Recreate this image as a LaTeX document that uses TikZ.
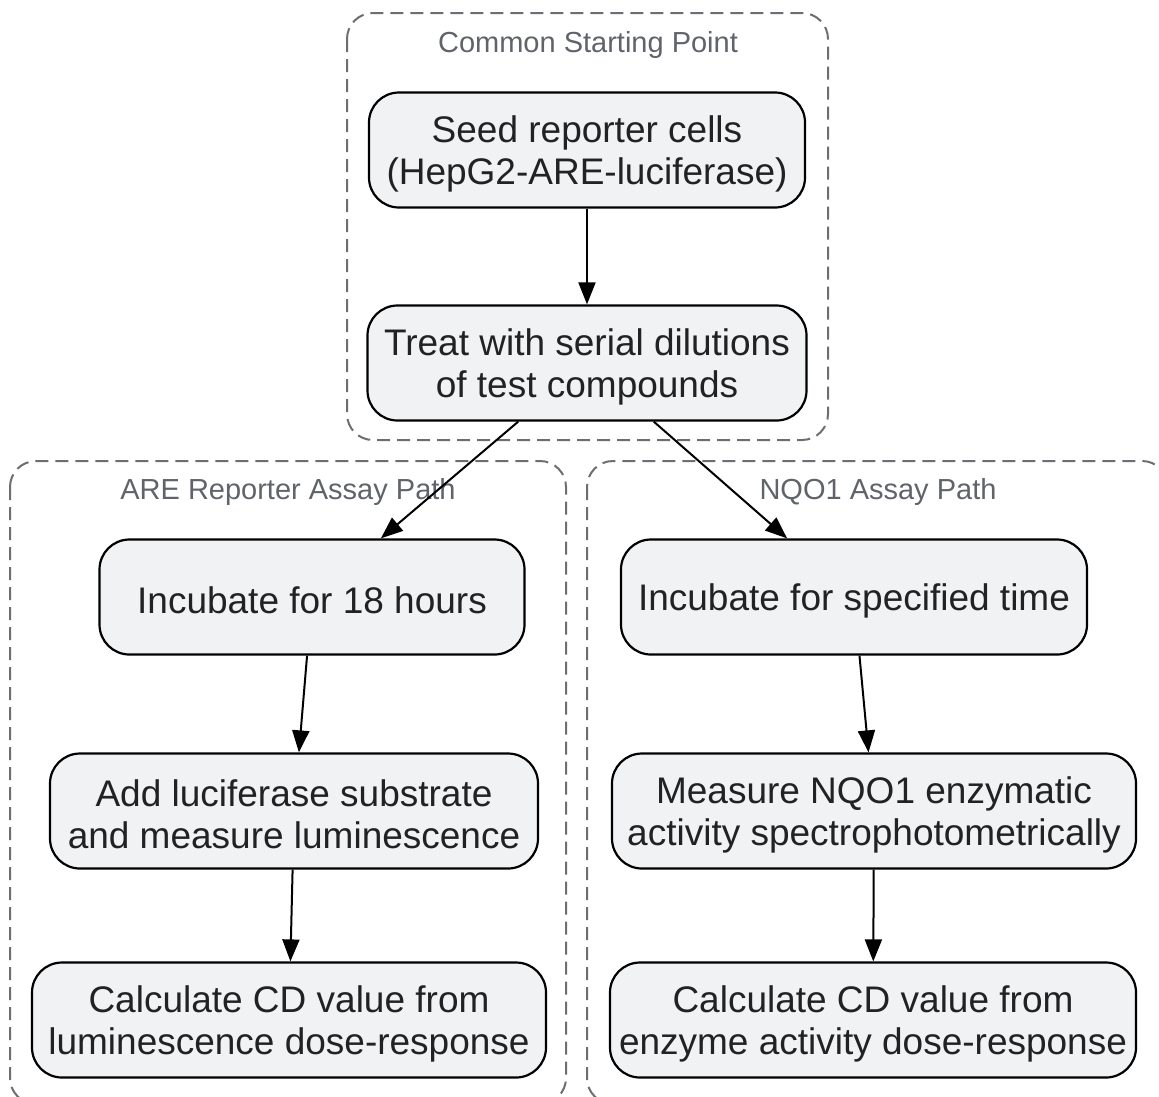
\documentclass[tikz,border=0pt]{standalone}
\usepackage{fontspec}
\setmainfont{Liberation Sans}
\usepackage{tikz}
\usetikzlibrary{arrows.meta}
\definecolor{stepfill}{HTML}{F1F2F4}
\definecolor{clustergray}{HTML}{6B6E73}
\definecolor{labelgray}{HTML}{60646A}
\definecolor{steptext}{HTML}{222222}
\newcommand{\leadline}{\rule{0pt}{34pt}}

\begin{document}
\begin{tikzpicture}[x=1pt, y=-1pt,
  stepbox/.style={draw, line width=2.2pt, fill=stepfill, rounded corners=30pt, align=center,
    inner sep=0pt, minimum height=115pt, text=steptext, font=\fontsize{37}{42}\selectfont},
  cluster/.style={draw=clustergray, line width=2pt, dash pattern=on 13pt off 7pt, rounded corners=26pt},
  clusterlabel/.style={text=labelgray, font=\fontsize{29}{34}\selectfont},
  flow/.style={-{Triangle[length=22pt,width=17pt]}, line width=2pt}]
\useasboundingbox (0,0) rectangle (1159,1096);
\clip (0,0) rectangle (1159,1096);
\draw[cluster] (347,13) rectangle (828,440);
\draw[cluster] (10,461) rectangle (566,1104);
\draw[cluster] (587,461) rectangle (1168,1104);
\node[clusterlabel] (commonlabel) at (588,45) {Common Starting Point};
\node[clusterlabel] (arelabel) at (288,492) {ARE Reporter Assay Path};
\node[clusterlabel] (nqolabel) at (878,492) {NQO1 Assay Path};
\node[stepbox, minimum width=436pt] (seed) at (587,150) {\leadline Seed reporter cells\\(HepG2-ARE-luciferase)};
\node[stepbox, minimum width=439pt] (treat) at (587,363) {\leadline Treat with serial dilutions\\of test compounds};
\node[stepbox, minimum width=425pt] (incare) at (312,597) {\leadline Incubate for 18 hours};
\node[stepbox, minimum width=488pt] (addluc) at (294,811) {\leadline Add luciferase substrate\\and measure luminescence};
\node[stepbox, minimum width=514pt] (calcare) at (289,1020) {\leadline Calculate CD value from\\luminescence dose-response};
\node[stepbox, minimum width=466pt] (incnqo) at (854,597) {\leadline Incubate for specified time};
\node[stepbox, minimum width=524pt] (measnqo) at (874,811) {\leadline Measure NQO1 enzymatic\\activity spectrophotometrically};
\node[stepbox, minimum width=526pt] (calcnqo) at (873,1020) {\leadline Calculate CD value from\\enzyme activity dose-response};
\draw[flow] (seed) -- (treat);
\draw[flow] (treat) -- (incare);
\draw[flow] (treat) -- (incnqo);
\draw[flow] (incare) -- (addluc);
\draw[flow] (addluc) -- (calcare);
\draw[flow] (incnqo) -- (measnqo);
\draw[flow] (measnqo) -- (calcnqo);
\end{tikzpicture}
\end{document}
